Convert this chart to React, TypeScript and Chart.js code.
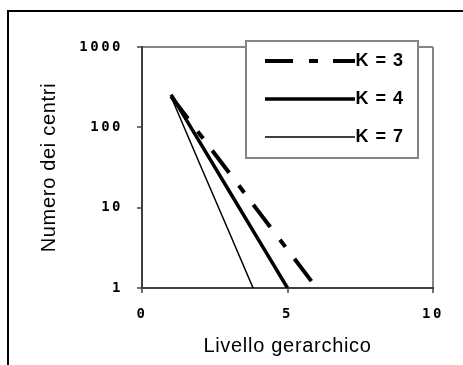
import React, { useEffect, useRef } from 'react';
import { Chart, registerables, LinearScale, LogarithmicScale } from 'chart.js';

// ---------------- data ----------------
const SERIES_LABELS = ['K = 3', 'K = 4', 'K = 7'];
const LEVELS_K3 = [1, 2, 3, 4, 5, 6];
const CENTRI_K3 = [243, 81, 27, 9, 3, 1];
const LEVELS_K4 = [1, 2, 3, 4, 5];
const CENTRI_K4 = [256, 64, 16, 4, 1];
const LEVELS_K7 = [1, 2, 3, 4];
const CENTRI_K7 = [240, 34, 4.9, 0.7];
const X_TICKS = [0, 5, 10];
const Y_TICKS = [1, 10, 100, 1000];
const X_TITLE = 'Livello gerarchico';
const Y_TITLE = 'Numero dei centri';

// ---------------- styles ----------------
const AXIS_COLOR = '#404040';
const FRAME_GRAY = '#858585';
const TICK_FONT = { family: '"DejaVu Sans Mono", monospace', size: 14, weight: 'bold' as const };
const TITLE_FONT = { family: '"Liberation Sans", Arial, sans-serif', size: 20 };
const LEGEND_FONT = { family: '"Liberation Sans", Arial, sans-serif', size: 18, weight: 'bold' as const };
const TICK_SPACING = '2.5px';
const TITLE_SPACING = '0.7px';
const LEGEND_SPACING = '1px';
const LEGEND_PADDING = 20;
const LEGEND_BOX = { left: 246, top: 41, right: 418, bottom: 158 };
const LEGEND_ITEMS_LEFT = 265;
const LEGEND_FIRST_CENTER = 61;
const LEGEND_TEXT_RIGHT = 404;
const STYLES = [
  { width: 4, dash: [28, 16, 9, 15] },
  { width: 3.5, dash: [] as number[] },
  { width: 1.5, dash: [] as number[] },
];

function withSpacing(ctx: any, spacing: string, fn: () => void) {
  const prev = ctx.letterSpacing;
  ctx.letterSpacing = spacing;
  fn();
  ctx.letterSpacing = prev;
}

class SpacedLinearScale extends LinearScale {
  static id = 'spacedLinear';
  drawLabels(area: any) {
    withSpacing(this.ctx, TICK_SPACING, () => super.drawLabels(area));
  }
  drawTitle() {
    withSpacing(this.ctx, TITLE_SPACING, () => super.drawTitle());
  }
}

class SpacedLogScale extends LogarithmicScale {
  static id = 'spacedLog';
  drawLabels(area: any) {
    withSpacing(this.ctx, TICK_SPACING, () => super.drawLabels(area));
  }
  drawTitle() {
    withSpacing(this.ctx, TITLE_SPACING, () => super.drawTitle());
  }
}

Chart.register(...registerables, SpacedLinearScale, SpacedLogScale);

const legendFramePlugin = {
  id: 'legendFrame',
  beforeDraw(chart: any) {
    const lg = chart.legend;
    if (!lg) return;
    lg.left = LEGEND_ITEMS_LEFT - LEGEND_PADDING;
    lg.top = LEGEND_FIRST_CENTER - LEGEND_FONT.size / 2 - LEGEND_PADDING;
    lg.right = LEGEND_TEXT_RIGHT;
    lg.bottom = LEGEND_BOX.bottom + 80;
    lg.width = lg.right - lg.left;
    lg.height = lg.bottom - lg.top;
    if (!lg.__framed) {
      const orig = lg.draw;
      lg.draw = function (...args: any[]) {
        const ctx = this.ctx;
        ctx.save();
        ctx.fillStyle = '#ffffff';
        ctx.fillRect(LEGEND_BOX.left, LEGEND_BOX.top, LEGEND_BOX.right - LEGEND_BOX.left, LEGEND_BOX.bottom - LEGEND_BOX.top);
        ctx.strokeStyle = FRAME_GRAY;
        ctx.lineWidth = 2;
        ctx.strokeRect(LEGEND_BOX.left, LEGEND_BOX.top, LEGEND_BOX.right - LEGEND_BOX.left, LEGEND_BOX.bottom - LEGEND_BOX.top);
        ctx.letterSpacing = LEGEND_SPACING;
        orig.apply(this, args);
        ctx.restore();
      };
      lg.__framed = true;
    }
  },
};

function toPoints(xs: number[], ys: number[]) {
  return xs.map((x, i) => ({ x, y: ys[i] }));
}

export default function App() {
  const canvasRef = useRef<HTMLCanvasElement | null>(null);

  useEffect(() => {
    const canvas = canvasRef.current;
    if (!canvas) return;
    const seriesData = [
      toPoints(LEVELS_K3, CENTRI_K3),
      toPoints(LEVELS_K4, CENTRI_K4),
      toPoints(LEVELS_K7, CENTRI_K7),
    ];
    const chart = new Chart(canvas, {
      type: 'line',
      data: {
        datasets: SERIES_LABELS.map((label, i) => ({
          label,
          data: seriesData[i],
          borderColor: '#000000',
          backgroundColor: '#000000',
          borderWidth: STYLES[i].width,
          borderDash: STYLES[i].dash,
          borderCapStyle: 'butt' as const,
          borderJoinStyle: 'miter' as const,
          pointRadius: 0,
          pointHoverRadius: 0,
          tension: 0,
          fill: false,
          clip: 0,
        })),
      },
      options: {
        animation: false,
        responsive: false,
        maintainAspectRatio: false,
        events: [],
        layout: { padding: { top: 47, right: 30, left: 0, bottom: 0 } },
        plugins: {
          tooltip: { enabled: false },
          legend: {
            display: true,
            position: 'chartArea' as any,
            align: 'start',
            labels: {
              usePointStyle: true,
              pointStyle: 'line',
              pointStyleWidth: 90,
              padding: LEGEND_PADDING,
              font: LEGEND_FONT,
              color: '#000000',
              generateLabels: (c: any) =>
                c.data.datasets.map((ds: any, i: number) => ({
                  text: ds.label,
                  datasetIndex: i,
                  hidden: false,
                  fillStyle: ds.borderColor,
                  strokeStyle: ds.borderColor,
                  lineWidth: ds.borderWidth,
                  lineDash: ds.borderDash,
                  lineCap: 'butt',
                  lineJoin: 'miter',
                  pointStyle: 'line',
                  rotation: 0,
                  fontColor: '#000000',
                  textAlign: 'right',
                })),
            },
          },
        },
        scales: {
          x: {
            type: 'spacedLinear' as any,
            min: 0,
            max: 10,
            afterBuildTicks: (s: any) => {
              s.ticks = X_TICKS.map((v) => ({ value: v }));
            },
            afterFit: (s: any) => {
              s.height = 77;
            },
            ticks: {
              font: TICK_FONT,
              color: '#000000',
              padding: 13,
              maxRotation: 0,
              callback: (v: any) => String(v),
            },
            grid: {
              color: (ctx: any) => (ctx.tick && ctx.tick.value === 10 ? FRAME_GRAY : 'rgba(0,0,0,0)'),
              lineWidth: 2,
              drawTicks: true,
              tickLength: 5,
              tickColor: AXIS_COLOR,
              tickWidth: 1.5,
            },
            border: { display: true, color: AXIS_COLOR, width: 2 },
            title: {
              display: true,
              text: X_TITLE,
              font: TITLE_FONT,
              color: '#000000',
              padding: { top: 0, bottom: 7 },
            },
          },
          y: {
            type: 'spacedLog' as any,
            min: 1,
            max: 1000,
            afterBuildTicks: (s: any) => {
              s.ticks = Y_TICKS.map((v) => ({ value: v }));
            },
            afterFit: (s: any) => {
              s.width = 142;
            },
            ticks: {
              font: TICK_FONT,
              color: '#000000',
              padding: 14,
              callback: (v: any) => String(v),
            },
            grid: {
              color: (ctx: any) => (ctx.tick && ctx.tick.value === 1000 ? FRAME_GRAY : 'rgba(0,0,0,0)'),
              lineWidth: 2,
              drawTicks: true,
              tickLength: 5,
              tickColor: AXIS_COLOR,
              tickWidth: 1.5,
            },
            border: { display: true, color: AXIS_COLOR, width: 2 },
            title: {
              display: true,
              text: Y_TITLE,
              font: TITLE_FONT,
              color: '#000000',
              padding: { top: 37, bottom: 0 },
            },
          },
        },
      },
      plugins: [legendFramePlugin],
    });
    return () => chart.destroy();
  }, []);

  return (
    <div
      style={{
        position: 'absolute',
        left: 0,
        top: 0,
        width: 463,
        height: 365,
        overflow: 'hidden',
        background: '#ffffff',
      }}
    >
      <div
        style={{
          position: 'absolute',
          left: 7,
          top: 10,
          width: 520,
          height: 420,
          borderTop: '2px solid #000',
          borderLeft: '2px solid #000',
        }}
      />
      <canvas
        ref={canvasRef}
        width={463}
        height={365}
        style={{ position: 'absolute', left: 0, top: 0, display: 'block' }}
      />
    </div>
  );
}
